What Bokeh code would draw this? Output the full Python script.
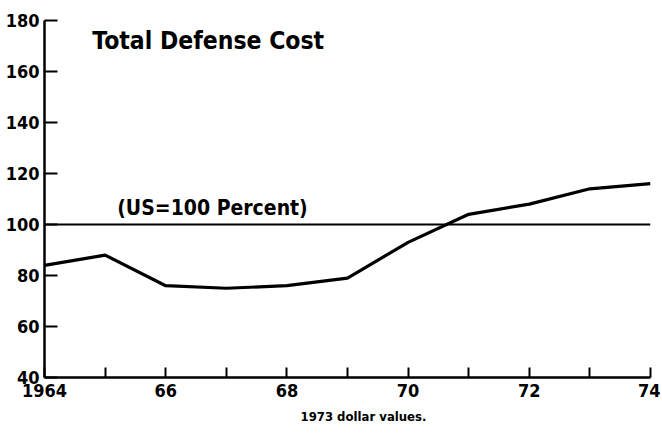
from bokeh.plotting import figure
from bokeh.models import Span, Label, FixedTicker, Range1d, Title
from bokeh.embed import file_html
from bokeh.resources import INLINE

# ---- data ----
years = [1964, 1965, 1966, 1967, 1968, 1969, 1970, 1971, 1972, 1973, 1974]
total_defense_cost = [84, 88, 76, 75, 76, 79, 93, 104, 108, 114, 116]
us_baseline = 100
y_ticks = [40, 60, 80, 100, 120, 140, 160, 180]
x_tick_labels = {1964: "1964", 1965: "", 1966: "66", 1967: "", 1968: "68", 1969: "",
                 1970: "70", 1971: "", 1972: "72", 1973: "", 1974: "74"}
title_text = "Total Defense Cost"
baseline_text = "(US=100 Percent)"
footnote_text = "1973 dollar values."

FONT = "'Liberation Sans Narrow', 'DejaVu Sans Condensed', sans-serif"

p = figure(width=660, height=433,
           x_range=Range1d(1964, 1974), y_range=Range1d(40, 180),
           output_backend="svg", toolbar_location=None,
           min_border_left=44, min_border_right=10,
           min_border_top=20, min_border_bottom=56)
p.outline_line_color = None
p.grid.visible = False

for ax in (p.xaxis[0], p.yaxis[0]):
    ax.axis_line_width = 2.5
    ax.axis_line_color = "black"
    ax.major_tick_line_width = 2
    ax.major_tick_line_color = "black"
    ax.minor_tick_line_color = None
    ax.major_tick_out = 0
    ax.major_label_text_font = FONT
    ax.major_label_text_font_style = "bold"
    ax.major_label_text_font_size = "18px"
    ax.major_label_text_color = "black"

p.xaxis.ticker = FixedTicker(ticks=years)
p.xaxis.major_label_overrides = x_tick_labels
p.xaxis.major_tick_in = 10
p.xaxis.major_label_standoff = 6

p.yaxis.ticker = FixedTicker(ticks=y_ticks)
p.yaxis.major_tick_in = 13
p.yaxis.major_label_standoff = 5

p.add_layout(Title(text=footnote_text, align="left", offset=256,
                   text_font=FONT, text_font_style="bold",
                   text_font_size="13px", text_color="black",
                   standoff=14), "below")

p.add_layout(Span(location=us_baseline, dimension="width",
                  line_color="black", line_width=2))

p.line(years, total_defense_cost, line_color="black", line_width=3.2)

p.add_layout(Label(x=1964.79, y=172.2, text=title_text, text_font=FONT,
                   text_font_style="bold", text_font_size="24.5px",
                   text_baseline="middle", text_color="black"))
p.add_layout(Label(x=1965.2, y=106.5, text=baseline_text, text_font=FONT,
                   text_font_style="bold", text_font_size="21px",
                   text_baseline="middle", text_color="black"))

open("out.html", "w").write(file_html(p, INLINE))
